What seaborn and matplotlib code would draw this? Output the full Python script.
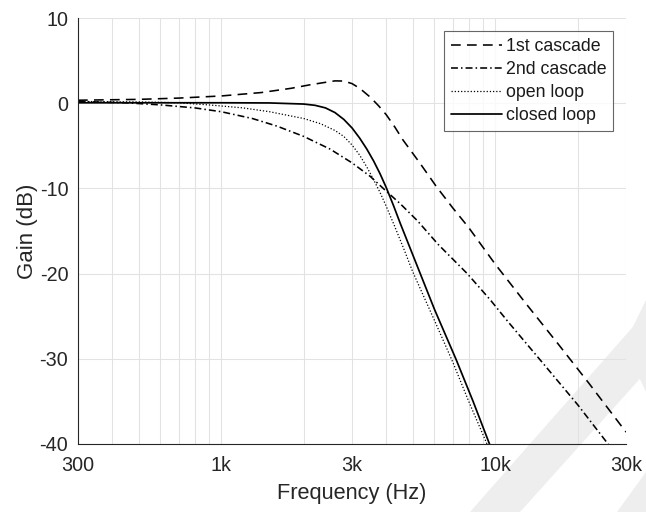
import numpy as np
import pandas as pd
import matplotlib
matplotlib.use("Agg")
import matplotlib.pyplot as plt
import seaborn as sns
from matplotlib.ticker import FixedLocator, NullFormatter
from matplotlib.patches import Polygon

# ---------------- data ----------------
freq_1st = [300, 500, 700, 1000, 1400, 1800, 2100, 2400, 2600, 2800, 3000, 3200, 3500,
            3750, 4000, 4300, 4600, 5300, 6100, 7000, 8000, 10000, 13000, 17000, 22000, 30000]
gain_1st = [0.35, 0.45, 0.6, 0.85, 1.25, 1.75, 2.15, 2.45, 2.62, 2.6, 2.3, 1.75, 0.7,
            -0.3, -1.35, -2.8, -4.3, -7.0, -9.8, -12.3, -14.6, -18.9, -23.6, -28.3, -32.9, -38.6]

freq_2nd = [300, 450, 600, 800, 1000, 1300, 1600, 2000, 2500, 3000, 3500, 3900,
            4500, 5200, 6200, 7900, 9600, 11100, 15000, 20000, 25800, 30000]
gain_2nd = [0.2, 0.05, -0.2, -0.55, -1.0, -1.8, -2.7, -3.9, -5.4, -7.0, -8.6, -10.0,
            -11.8, -13.8, -16.6, -20.0, -23.1, -25.6, -30.6, -35.4, -40.0, -42.6]

freq_open = [300, 500, 700, 900, 1200, 1500, 2000, 2300, 2600, 2800, 3000, 3200, 3400,
             3600, 3800, 4000, 4300, 4650, 5000, 6000, 7000, 8000, 9300, 10000]
gain_open = [0.2, 0.15, 0.05, -0.2, -0.55, -1.0, -1.8, -2.4, -3.2, -3.9, -4.9, -6.1, -7.5,
             -9.0, -10.5, -12.1, -14.5, -17.2, -19.8, -25.5, -30.4, -35.0, -39.9, -42.5]

freq_closed = [300, 1000, 1500, 2000, 2200, 2400, 2600, 2800, 3000, 3200, 3400, 3600,
               3800, 4000, 4250, 4500, 5000, 6000, 7200, 8300, 9500, 10000]
gain_closed = [0.05, 0.05, 0.03, -0.1, -0.25, -0.55, -1.1, -1.9, -2.9, -4.1, -5.4, -6.8,
               -8.3, -9.9, -12.0, -14.1, -17.8, -24.2, -30.1, -35.0, -39.9, -41.7]

series_names = ["1st cascade", "2nd cascade", "open loop", "closed loop"]

x_major = [300, 1000, 3000, 10000, 30000]
x_major_labels = ["300", "1k", "3k", "10k", "30k"]
x_minor = [400, 500, 600, 700, 800, 900, 2000, 4000, 5000, 6000, 7000, 8000, 9000, 20000]
y_ticks = [-40, -30, -20, -10, 0, 10]

# ---------------- styling ----------------
sns.set_theme(style="white")
plt.rcParams["font.family"] = ["Liberation Sans", "DejaVu Sans"]
plt.rcParams["lines.scale_dashes"] = False

fig = plt.figure(figsize=(6.46, 5.12), dpi=100)
ax = fig.add_axes([78 / 646, 1 - 444 / 512, (626 - 78) / 646, (444 - 18) / 512])
ax.set_facecolor("none")

# watermark-like light shapes (decorative, pixel coords of image)
wm_shapes = [
    [(470, 512), (520, 512), (646, 372), (646, 312)],
    [(617, 512), (646, 512), (646, 472)],
    [(646, 300), (624, 345), (646, 392)],
]
for shp in wm_shapes:
    pts = [(x, 512 - y) for x, y in shp]
    fig.patches.append(Polygon(pts, closed=True, transform=None, facecolor="#eeeeee",
                               edgecolor="none", zorder=-10))

styles = [
    dict(lw=1.15, ls=(0, (7.0, 4.5))),
    dict(lw=1.15, ls=(0, (5.0, 2.2, 1.1, 2.2))),
    dict(lw=0.9, ls=(0, (0.9, 1.4))),
    dict(lw=1.25, ls="-"),
]
data = [(freq_1st, gain_1st), (freq_2nd, gain_2nd), (freq_open, gain_open),
        (freq_closed, gain_closed)]

for (f, g), name, st in zip(data, series_names, styles):
    df = pd.DataFrame({"Frequency": f, "Gain": g})
    sns.lineplot(data=df, x="Frequency", y="Gain", ax=ax, color="black",
                 estimator=None, sort=False, label=name, linewidth=st["lw"])
    ax.lines[-1].set_linestyle(st["ls"])

ax.set_xscale("log")
ax.set_xlim(300, 30000)
ax.set_ylim(-40, 10)
ax.xaxis.set_major_locator(FixedLocator(x_major))
ax.set_xticklabels(x_major_labels)
ax.xaxis.set_minor_locator(FixedLocator(x_minor))
ax.xaxis.set_minor_formatter(NullFormatter())
ax.set_yticks(y_ticks)
ax.set_yticklabels([str(v) for v in y_ticks])

ax.grid(True, which="both", axis="x", color="#e2e2e2", lw=0.75)
ax.grid(True, which="major", axis="y", color="#e2e2e2", lw=0.75)
ax.set_axisbelow(True)

for s in ["top", "right"]:
    ax.spines[s].set_visible(False)
for s in ["left", "bottom"]:
    ax.spines[s].set_color("#262626")
    ax.spines[s].set_linewidth(0.8)

ax.tick_params(axis="both", which="both", direction="in", length=4.3, width=0.8,
               color="#262626", labelcolor="#262626", labelsize=14.2)
ax.tick_params(axis="x", which="both", pad=8.5)
ax.tick_params(axis="y", which="both", pad=7)

ax.set_xlabel("Frequency (Hz)", fontsize=15.7, color="#262626", labelpad=6)
ax.set_ylabel("Gain (dB)", fontsize=16, color="#262626", labelpad=1)

leg = ax.legend(loc="upper right", fontsize=12.8, frameon=True, fancybox=False,
                borderaxespad=0.73, borderpad=0.38, labelspacing=0.34,
                handlelength=2.87, handletextpad=0.22)
leg.get_frame().set_edgecolor("#404040")
leg.get_frame().set_linewidth(0.8)
for t in leg.get_texts():
    t.set_color("#1a1a1a")

fig.savefig("out.png", dpi=100)
